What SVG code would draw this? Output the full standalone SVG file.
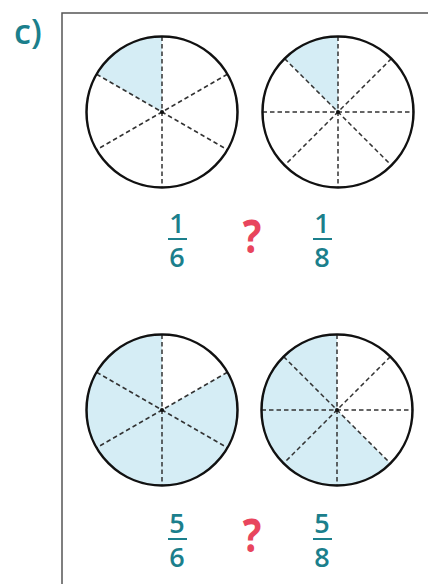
<svg xmlns="http://www.w3.org/2000/svg" width="428" height="584" viewBox="0 0 428 584">
<style>
.frame{fill:none;stroke:#555;stroke-width:1.5}
.circ{fill:none;stroke:#111;stroke-width:2.5}
.sh{fill:#d5edf5;stroke:none}
.dash{stroke:#333;stroke-width:1.5;stroke-dasharray:4.5 3;fill:none}
.dot{fill:#111}
.num{font-family:"Open Sans","Liberation Sans",sans-serif;font-size:27px;font-weight:600;fill:#1b7f8c;text-anchor:middle}
.bar{stroke:#1b7f8c;stroke-width:2}
.q{font-family:"Open Sans","Liberation Sans",sans-serif;font-size:46px;font-weight:700;fill:#e8455d;text-anchor:middle}
.lbl{font-family:"Open Sans","Liberation Sans",sans-serif;font-size:34px;font-weight:600;fill:#1b7f8c}
</style>
<text class="lbl" x="14" y="44">c)</text>
<path class="frame" d="M62,584 V13 H428"/>

<g id="circle-1-6">
<path class="sh" d="M162,112 L162,36.5 A75.5,75.5 0 0 0 96.62,74.25 Z"/>
<g class="dash">
<line x1="162" y1="36.5" x2="162" y2="187.5"/>
<line x1="227.38" y1="74.25" x2="96.62" y2="149.75"/>
<line x1="96.62" y1="74.25" x2="227.38" y2="149.75"/>
</g>
<circle class="circ" cx="162" cy="112" r="75.5"/>
<circle class="dot" cx="162" cy="112" r="2"/>
</g>

<g id="circle-1-8">
<path class="sh" d="M338,112 L338,36.5 A75.5,75.5 0 0 0 284.61,58.61 Z"/>
<g class="dash">
<line x1="338" y1="36.5" x2="338" y2="187.5"/>
<line x1="262.5" y1="112" x2="413.5" y2="112"/>
<line x1="284.61" y1="58.61" x2="391.39" y2="165.39"/>
<line x1="391.39" y1="58.61" x2="284.61" y2="165.39"/>
</g>
<circle class="circ" cx="338" cy="112" r="75.5"/>
<circle class="dot" cx="338" cy="112" r="2"/>
</g>

<g id="frac-1-6">
<text class="num" x="177" y="233">1</text>
<line class="bar" x1="168" y1="239" x2="187" y2="239"/>
<text class="num" x="177" y="267">6</text>
</g>
<g id="q1"><text class="q" x="0" y="0" transform="translate(252,253) scale(0.85,1)">?</text></g>
<g id="frac-1-8">
<text class="num" x="322" y="233">1</text>
<line class="bar" x1="313" y1="239" x2="332" y2="239"/>
<text class="num" x="322" y="267">8</text>
</g>

<g id="circle-5-6">
<path class="sh" d="M162,410 L162,334.5 A75.5,75.5 0 1 0 227.38,372.25 Z"/>
<g class="dash">
<line x1="162" y1="334.5" x2="162" y2="485.5"/>
<line x1="227.38" y1="372.25" x2="96.62" y2="447.75"/>
<line x1="96.62" y1="372.25" x2="227.38" y2="447.75"/>
</g>
<circle class="circ" cx="162" cy="410" r="75.5"/>
<circle class="dot" cx="162" cy="410" r="2"/>
</g>

<g id="circle-5-8">
<path class="sh" d="M337,410 L337,334.5 A75.5,75.5 0 1 0 390.39,463.39 Z"/>
<g class="dash">
<line x1="337" y1="334.5" x2="337" y2="485.5"/>
<line x1="261.5" y1="410" x2="412.5" y2="410"/>
<line x1="283.61" y1="356.61" x2="390.39" y2="463.39"/>
<line x1="390.39" y1="356.61" x2="283.61" y2="463.39"/>
</g>
<circle class="circ" cx="337" cy="410" r="75.5"/>
<circle class="dot" cx="337" cy="410" r="2"/>
</g>

<g id="frac-5-6">
<text class="num" x="177" y="533">5</text>
<line class="bar" x1="168" y1="539" x2="187" y2="539"/>
<text class="num" x="177" y="567">6</text>
</g>
<g id="q2"><text class="q" x="0" y="0" transform="translate(252,552) scale(0.85,1)">?</text></g>
<g id="frac-5-8">
<text class="num" x="322" y="533">5</text>
<line class="bar" x1="313" y1="539" x2="332" y2="539"/>
<text class="num" x="322" y="567">8</text>
</g>
</svg>
